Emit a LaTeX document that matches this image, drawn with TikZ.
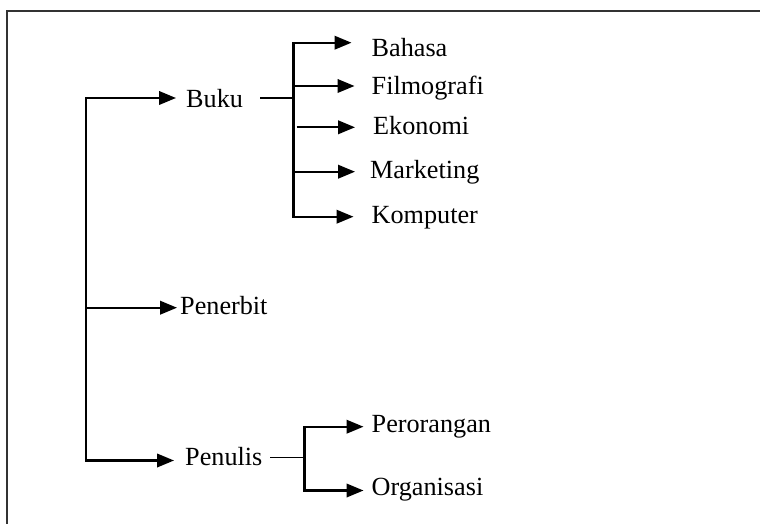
\documentclass[tikz,border=0pt]{standalone}
\usepackage{fontspec}
\setmainfont{Liberation Serif}
\usetikzlibrary{arrows.meta}
\begin{document}
\begin{tikzpicture}[x=1pt,y=-1pt,
  conn/.style={line width=2.2pt,line cap=rect},
  arr/.style={line width=2.2pt,-{Triangle[length=17pt,width=13.5pt]}},
  lbl/.style={anchor=base west,inner sep=0pt,font=\fontsize{26.2}{29}\selectfont}]
\useasboundingbox (0,0) rectangle (760,524);
% frame
\draw[line width=2pt,black!80] (7,524) -- (7,11.5) -- (760,11.5);
% labels
\node[lbl] (buku) at (186,108) {Buku};
\node[lbl] (penerbit) at (180,314) {Penerbit};
\node[lbl] (penulis) at (185,465) {Penulis};
\node[lbl] (bahasa) at (371.5,56.5) {Bahasa};
\node[lbl] (film) at (371.5,95) {Filmografi};
\node[lbl] (ekonomi) at (373,135) {Ekonomi};
\node[lbl] (marketing) at (370,178) {Marketing};
\node[lbl] (komputer) at (371.5,223) {Komputer};
\node[lbl] (perorangan) at (371.5,432) {Perorangan};
\node[lbl] (organisasi) at (371.5,495) {Organisasi};
% junction coordinates
\coordinate (m1) at (86,98);
\coordinate (m2) at (86,307.7);
\coordinate (m3) at (86,460.5);
\coordinate (bukuout) at (260,98);
\coordinate (s1) at (293.5,42.7);
\coordinate (s2) at (293.5,86);
\coordinate (s3) at (296.7,127.3);
\coordinate (s4) at (293.5,171.7);
\coordinate (s5) at (293.5,216.7);
\coordinate (sb) at (293.5,98);
\coordinate (penout) at (270,457.3);
\coordinate (p1) at (304.5,426.7);
\coordinate (p2) at (304.5,490.5);
\coordinate (pj) at (304.5,457.3);
% main tree
\draw[conn] (m1) -- (m3);
\draw[arr] (m1) -- ([xshift=-10pt]buku.west |- m1);
\draw[arr] (m2) -- ([xshift=-3pt]penerbit.west |- m2);
\draw[arr] (m3) -- ([xshift=-11pt]penulis.west |- m3);
% buku subtree
\draw[line width=1.3pt] (bukuout) -- (sb);
\draw[conn] (s1) -- (s5);
\draw[arr] (s1) -- ([xshift=-20pt]bahasa.west |- s1);
\draw[arr] (s2) -- ([xshift=-17pt]film.west |- s2);
\draw[arr] (s3) -- ([xshift=-18pt]ekonomi.west |- s3);
\draw[arr] (s4) -- ([xshift=-15pt]marketing.west |- s4);
\draw[arr] (s5) -- ([xshift=-18pt]komputer.west |- s5);
% penulis subtree
\draw[line width=1.3pt] (penout) -- (pj);
\draw[conn] (p1) -- (p2);
\draw[arr] (p1) -- ([xshift=-8pt]perorangan.west |- p1);
\draw[arr] (p2) -- ([xshift=-8pt]organisasi.west |- p2);
\end{tikzpicture}
\end{document}
